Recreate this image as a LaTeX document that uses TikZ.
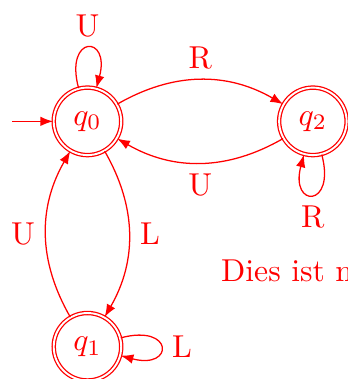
\documentclass[tikz,border=0pt]{standalone}
\usetikzlibrary{arrows.meta}
\begin{document}
\begin{tikzpicture}[
  color=red,
  statebox/.style={circle, draw, double, minimum size=21.3pt, inner sep=0pt},
  every edge/.style={draw, -{Latex[length=4pt,width=3pt]}, auto},
  every loop/.style={}
]
\useasboundingbox (-27.6pt,-81.3pt) rectangle (82.2pt,38.3pt);
\node[statebox] (q0) at (0,0) {$q_0$};
\node[statebox] (q2) at (71.13pt,0) {$q_2$};
\node[statebox] (q1) at (0,-71.13pt) {$q_1$};
\coordinate (init) at ([xshift=-12.9pt]q0.west);
\draw[-{Latex[length=4pt,width=3pt]}] (init) -- (q0);
\path (q0) edge[loop above] node {U} (q0)
      (q0) edge[bend left=30] node {R} (q2)
      (q2) edge[bend left=30] node {U} (q0)
      (q2) edge[loop below] node {R} (q2)
      (q0) edge[bend left=30] node {L} (q1)
      (q1) edge[bend left=30] node {U} (q0)
      (q1) edge[loop right] node {L} (q1);
\node[anchor=base west, inner sep=0pt] (txt) at (42pt,-50.5pt) {Dies ist n};
\end{tikzpicture}
\end{document}
